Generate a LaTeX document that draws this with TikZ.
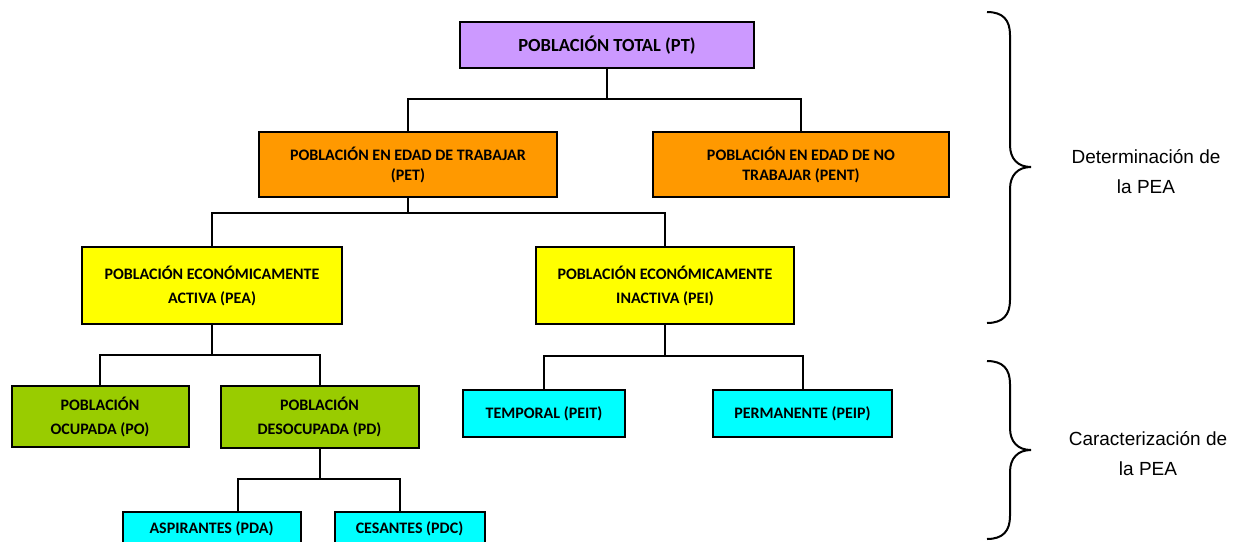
\documentclass[tikz,border=0pt]{standalone}
\usepackage{fontspec}
\setmainfont{Carlito}
\newfontfamily\sidefont{Liberation Sans}
\usepackage{tikz}
\usetikzlibrary{positioning}
\definecolor{lila}{HTML}{CC99FF}
\definecolor{naranja}{HTML}{FF9900}
\definecolor{amarillo}{HTML}{FFFF00}
\definecolor{verde}{HTML}{99CC00}
\definecolor{celeste}{HTML}{00FFFF}

\begin{document}
\begin{tikzpicture}[main/.style = {draw, rectangle, line width=2pt, inner sep=0pt, outer sep=0pt, font=\bfseries\fontsize{16}{24}\selectfont},
  side/.style = {font=\sidefont\fontsize{19}{30}\selectfont},
  every path/.style = {line width=2pt},
  node distance= 1cm,align=center]
\useasboundingbox (0,0) rectangle (1234pt,-541pt);
\node[main, fill=lila, minimum width=294pt, minimum height=46pt, font=\bfseries\fontsize{18.5}{22}\selectfont] (pt) at (607pt,-45pt) {POBLACIÓN TOTAL (PT)};
\node[main, fill=naranja, minimum width=298pt, minimum height=65pt, font=\bfseries\fontsize{16}{20}\selectfont] (pet) [below=64pt of pt, xshift=-199pt] {POBLACIÓN EN EDAD DE TRABAJAR\\(PET)};
\node[main, fill=naranja, minimum width=296pt, minimum height=65pt, font=\bfseries\fontsize{16}{20}\selectfont] (pent) [right=96pt of pet] {POBLACIÓN EN EDAD DE NO\\TRABAJAR (PENT)};
\node[main, fill=amarillo, minimum width=260pt, minimum height=77pt] (pea) [below=50pt of pet, xshift=-196pt] {POBLACIÓN ECONÓMICAMENTE\\ACTIVA (PEA)};
\node[main, fill=amarillo, minimum width=258pt, minimum height=77pt] (pei) [right=194pt of pea] {POBLACIÓN ECONÓMICAMENTE\\INACTIVA (PEI)};
\node[main, fill=verde, minimum width=177pt, minimum height=61pt] (po) [below=62pt of pea, xshift=-112pt] {POBLACIÓN\\OCUPADA (PO)};
\node[main, fill=verde, minimum width=198pt, minimum height=62pt] (pd) [right=32pt of po] {POBLACIÓN\\DESOCUPADA (PD)};
\node[main, fill=celeste, minimum width=162pt, minimum height=47pt] (peit) [below=66pt of pei, xshift=-121pt] {TEMPORAL (PEIT)};
\node[main, fill=celeste, minimum width=179pt, minimum height=47pt] (peip) [right=88pt of peit] {PERMANENTE (PEIP)};
\node[main, fill=celeste, minimum width=178pt, minimum height=34pt] (pda) [below=64pt of pd, xshift=-108pt] {ASPIRANTES (PDA)};
\node[main, fill=celeste, minimum width=150pt, minimum height=34pt] (pdc) [right=34pt of pda] {CESANTES (PDC)};
\node[side] (det) at (1146pt,-172pt) {Determinación de\\la PEA};
\node[side] (car) at (1148pt,-454pt) {Caracterización de\\la PEA};
\draw (pt.south) -- ++(0,-31pt) -| (pet.north) (pt.south) ++(0,-31pt) -| (pent.north);
\draw (pet.south) -- ++(0,-16pt) -| (pea.north) (pet.south) ++(0,-16pt) -| (pei.north);
\draw (pea.south) -- ++(0,-31pt) -| (po.north) (pea.south) ++(0,-31pt) -| (pd.north);
\draw (pei.south) -- ++(0,-32pt) -| (peit.north) (pei.south) ++(0,-32pt) -| (peip.north);
\draw (pd.south) -- ++(0,-31pt) -| ([xshift=26pt]pda.north) (pd.south) ++(0,-31pt) -| ([xshift=-10pt]pdc.north);
% llaves
\draw (987pt,-12pt) .. controls (1003pt,-12pt) and (1010pt,-20pt) .. (1010pt,-35pt) -- (1010pt,-145pt)
  .. controls (1010pt,-159pt) and (1018pt,-167pt) .. (1031pt,-167pt)
  .. controls (1018pt,-167pt) and (1010pt,-175pt) .. (1010pt,-189pt) -- (1010pt,-300pt)
  .. controls (1010pt,-315pt) and (1003pt,-323pt) .. (987pt,-323pt);
\draw (987pt,-361pt) .. controls (1003pt,-361pt) and (1010pt,-369pt) .. (1010pt,-384pt) -- (1010pt,-428pt)
  .. controls (1010pt,-442pt) and (1018pt,-450pt) .. (1031pt,-450pt)
  .. controls (1018pt,-450pt) and (1010pt,-458pt) .. (1010pt,-472pt) -- (1010pt,-516pt)
  .. controls (1010pt,-531pt) and (1003pt,-539pt) .. (987pt,-539pt);
\end{tikzpicture}
\end{document}
